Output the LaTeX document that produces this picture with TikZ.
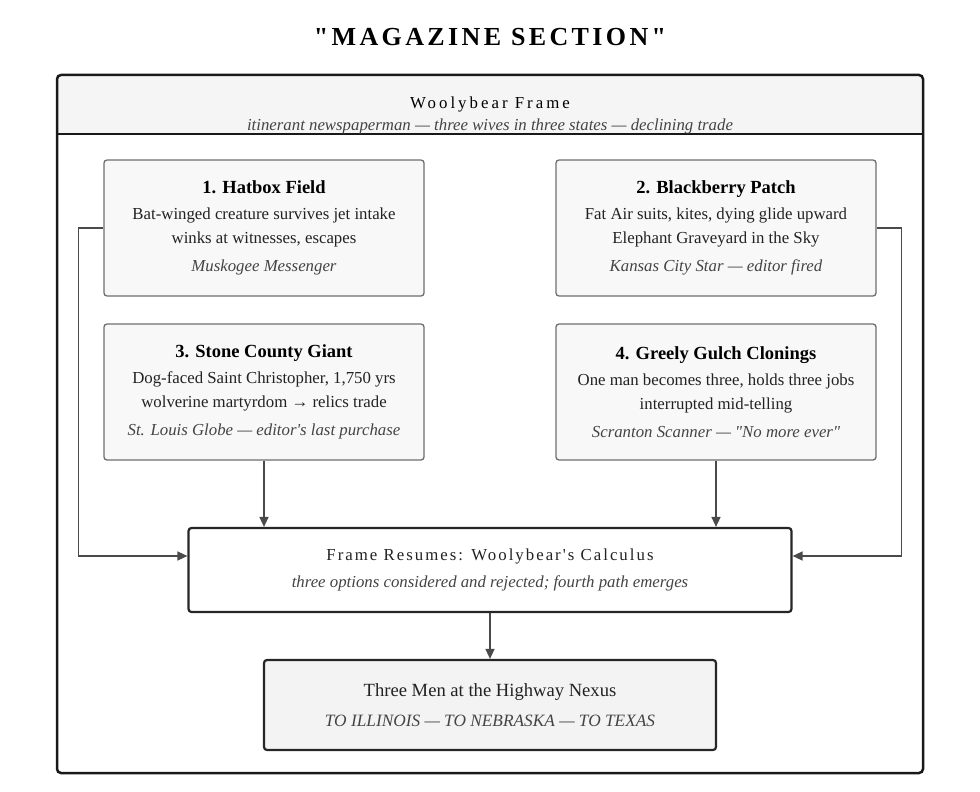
\documentclass[tikz,border=0pt]{standalone}
\usepackage{fontspec}
\setmainfont{Liberation Serif}[Ligatures=TeXOff]
\usetikzlibrary{positioning,arrows.meta}
\definecolor{boxfill}{HTML}{F8F8F8}
\definecolor{headfill}{HTML}{F5F5F5}
\definecolor{nexusfill}{HTML}{F3F3F3}
\definecolor{boxline}{HTML}{6E6E6E}
\definecolor{linkgray}{HTML}{4A4A4A}
\definecolor{textdark}{HTML}{222222}
\definecolor{textsrc}{HTML}{444444}
\newcommand{\storytitle}[1]{{\fontsize{18.5}{24}\selectfont\bfseries\color{black}#1}}
\newcommand{\storysrc}[1]{{\itshape\color{textsrc}#1}}
\begin{document}
\begin{tikzpicture}[x=1pt, y=-1pt] %Magazine section
           \tikzstyle{story} = [draw=boxline, fill=boxfill, rounded corners=3pt, line width=1.3pt, minimum width=320pt, minimum height=136pt, inner sep=0pt, align=center, text=textdark, font=\fontsize{16.8}{24}\selectfont]
           \tikzstyle{hub} = [draw=black!85, line width=2.2pt, rounded corners=3pt, inner sep=0pt, align=center, text=textdark, font=\fontsize{16.8}{27}\selectfont]
           \tikzstyle{link} = [draw=linkgray, line width=1.5pt, -{Triangle[length=10pt,width=9pt]}]
           \useasboundingbox (0,0) rectangle (980,792);
           \node[font=\fontsize{26}{30}\selectfont\bfseries\addfontfeatures{LetterSpace=13}] (T) at (490,37) {"MAGAZINE SECTION"};
           \node[fill=headfill, minimum width=866pt, minimum height=59pt, inner sep=0pt] (H) at (490,104.5) {};
           \node[draw=black!90, line width=2.5pt, rounded corners=4pt, minimum width=866pt, minimum height=698pt, inner sep=0pt] (F) at (490,424) {};
           \draw[line width=2.5pt, black!90] (H.south west) -- (H.south east);
           \node[align=center, font=\fontsize{16.8}{22}\selectfont] (Ht) at (490,115) {{\addfontfeatures{LetterSpace=18}Woolybear Frame}\\ \storysrc{itinerant newspaperman — three wives in three states — declining trade}};
           \node[story] (S1) at (264,228) {\storytitle{1. Hatbox Field}\\[2pt] Bat-winged creature survives jet intake\\ winks at witnesses, escapes\\[4pt] \storysrc{Muskogee Messenger}};
           \node[story] (S2) at (716,228) {\storytitle{2. Blackberry Patch}\\[2pt] Fat Air suits, kites, dying glide upward\\ Elephant Graveyard in the Sky\\[4pt] \storysrc{Kansas City Star — editor fired}};
           \node[story] (S3) at (264,392) {\storytitle{3. Stone County Giant}\\[2pt] Dog-faced Saint Christopher, 1,750 yrs\\ wolverine martyrdom → relics trade\\[4pt] \storysrc{St. Louis Globe — editor's last purchase}};
           \node[story] (S4) at (716,392) {\storytitle{4. Greely Gulch Clonings}\\[2pt] One man becomes three, holds three jobs\\ interrupted mid-telling\\[4pt] \storysrc{Scranton Scanner — "No more ever"}};
           \node[hub, fill=white, minimum width=603pt, minimum height=84pt] (R) at (490,570) {{\addfontfeatures{LetterSpace=12}Frame Resumes: Woolybear's Calculus}\\ \storysrc{three options considered and rejected; fourth path emerges}};
           \node[hub, fill=nexusfill, minimum width=452pt, minimum height=90pt, font=\fontsize{18.6}{30}\selectfont] (N) at (490,705) {Three Men at the Highway Nexus\\ \storysrc{\fontsize{17.3}{30}\selectfont TO ILLINOIS — TO NEBRASKA — TO TEXAS}};
           \draw[link] (S1.west) -- ++(-25,0) |- ([yshift=14pt]R.west);
           \draw[link] (S2.east) -- ++(25,0) |- ([yshift=14pt]R.east);
           \draw[link] (S3.south) -- (S3.south |- R.north);
           \draw[link] (S4.south) -- (S4.south |- R.north);
           \draw[link] (R.south) -- (N.north);
\end{tikzpicture}
\end{document}
